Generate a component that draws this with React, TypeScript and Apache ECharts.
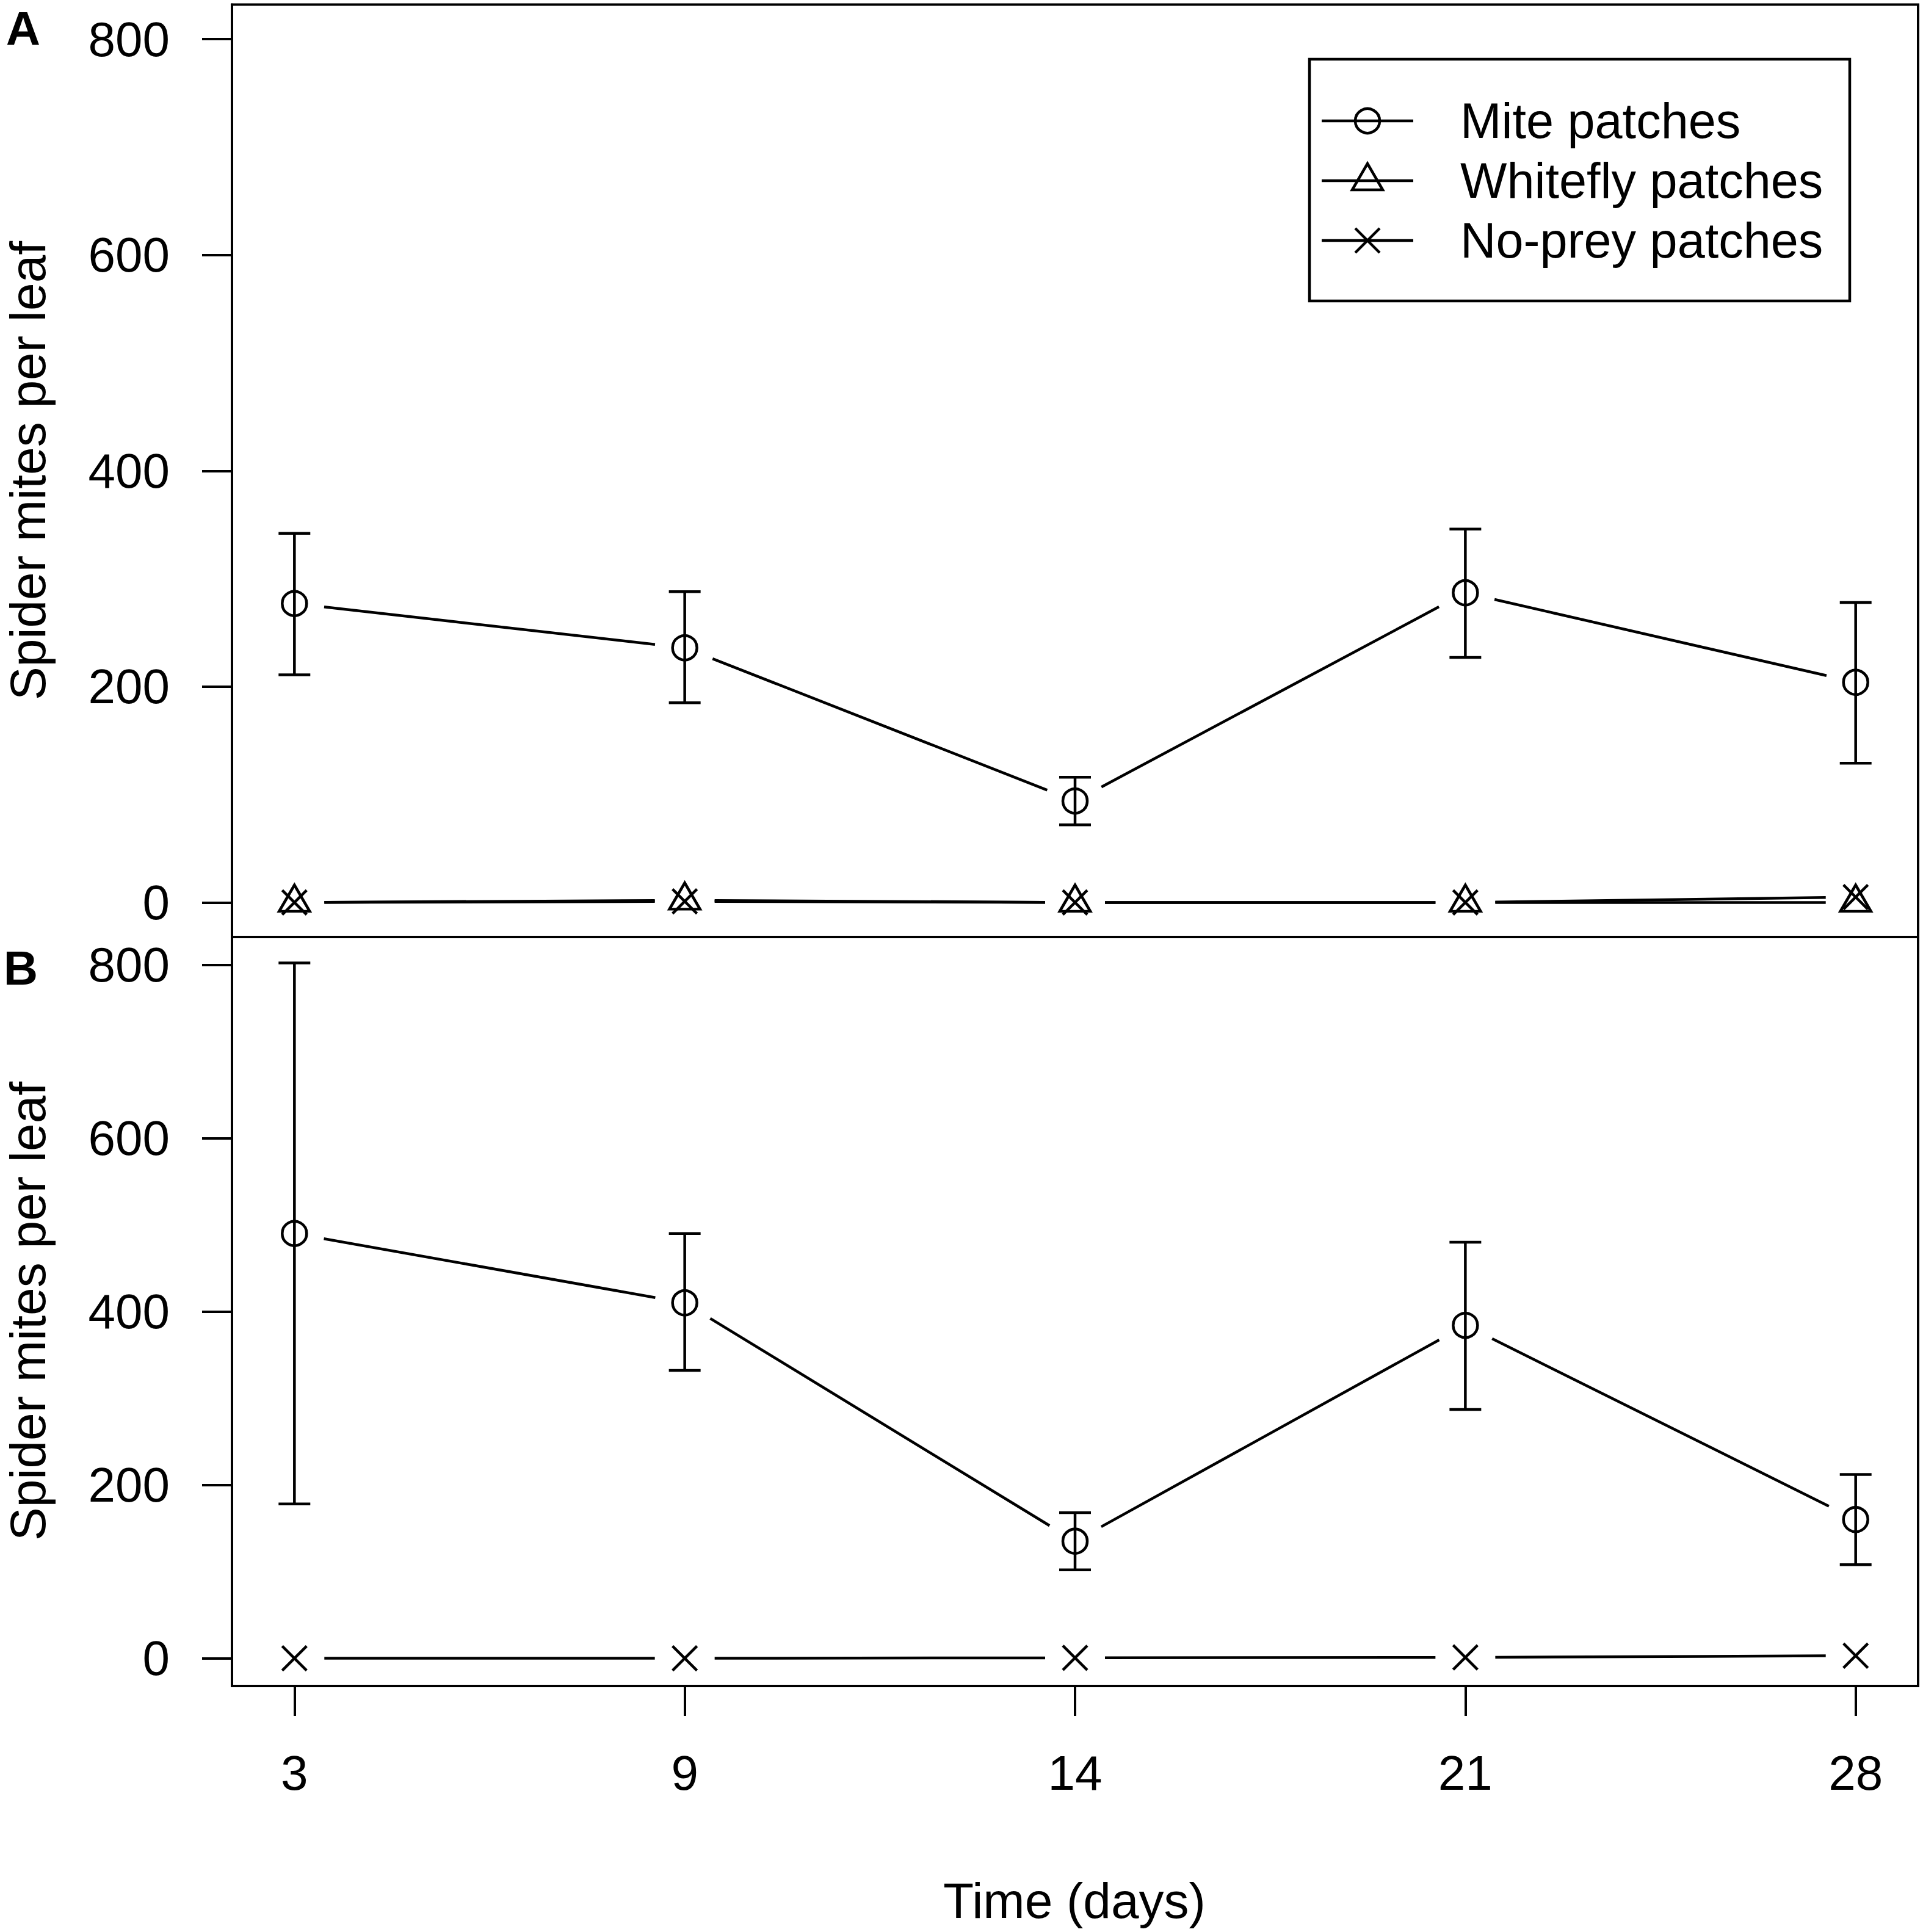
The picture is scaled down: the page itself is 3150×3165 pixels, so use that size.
import React, { useEffect, useRef } from 'react';
import * as echarts from 'echarts';

// ---- data ----
const days = ['3', '9', '14', '21', '28'];
const yTicks = [0, 200, 400, 600, 800];

const miteA = [277, 236, 94, 287, 204];
const miteAUpper = [342, 288, 116, 346, 278];
const miteALower = [211, 185, 72, 227, 129];
const whiteflyA = [0, 2, 0, 0, 0];
const noPreyA = [0, 1, 0, 0, 5];

const miteB = [490, 410, 135, 384, 160];
const miteBUpper = [802, 490, 168, 480, 212];
const miteBLower = [178, 332, 102, 287, 108];
const noPreyB = [0, 0, 0.5, 1, 3];

const legendLabels = ['Mite patches', 'Whitefly patches', 'No-prey patches'];
const yTitle = 'Spider mites per leaf';
const xTitle = 'Time (days)';

// ---- style constants ----
const FONT = '"Liberation Sans", Arial, Helvetica, sans-serif';
const LW = 4.5;
const GAP = 49;
const CAP = 26;
const CROSS = 'path://M0,0L10,10M10,0L0,10';

const xPos = days.map((_, i) => i + 1);
const pts = (v: number[]) => v.map((y, i) => [i + 1, y]);
const segs = (v: number[]) => v.slice(0, -1).map((y, i) => [i + 1, y, i + 2, v[i + 1]]);
const bars = (lo: number[], hi: number[]) => lo.map((l, i) => [i + 1, l, hi[i]]);

const lineStyle = { stroke: '#000', lineWidth: LW, lineCap: 'butt' };

function segSeries(values: number[], gi: number) {
  return {
    type: 'custom',
    xAxisIndex: gi,
    yAxisIndex: gi,
    z: 2,
    silent: true,
    encode: { x: [0, 2], y: [1, 3] },
    data: segs(values),
    renderItem: (params: any, api: any) => {
      const p0 = api.coord([api.value(0), api.value(1)]);
      const p1 = api.coord([api.value(2), api.value(3)]);
      const dx = p1[0] - p0[0];
      const dy = p1[1] - p0[1];
      const len = Math.hypot(dx, dy);
      if (len <= 2 * GAP) return null;
      const ux = dx / len;
      const uy = dy / len;
      return {
        type: 'line',
        shape: { x1: p0[0] + ux * GAP, y1: p0[1] + uy * GAP, x2: p1[0] - ux * GAP, y2: p1[1] - uy * GAP },
        style: lineStyle,
      };
    },
  };
}

function errSeries(lo: number[], hi: number[], gi: number) {
  return {
    type: 'custom',
    xAxisIndex: gi,
    yAxisIndex: gi,
    z: 2,
    silent: true,
    encode: { x: 0, y: [1, 2] },
    data: bars(lo, hi),
    renderItem: (params: any, api: any) => {
      const x = api.value(0);
      const a = api.coord([x, api.value(1)]);
      const b = api.coord([x, api.value(2)]);
      return {
        type: 'group',
        children: [
          { type: 'line', shape: { x1: a[0], y1: a[1], x2: b[0], y2: b[1] }, style: lineStyle },
          { type: 'line', shape: { x1: a[0] - CAP, y1: a[1], x2: a[0] + CAP, y2: a[1] }, style: lineStyle },
          { type: 'line', shape: { x1: b[0] - CAP, y1: b[1], x2: b[0] + CAP, y2: b[1] }, style: lineStyle },
        ],
      };
    },
  };
}

function markSeries(values: number[], gi: number, kind: 'circle' | 'triangle' | 'cross') {
  const base: any = {
    type: 'scatter',
    xAxisIndex: gi,
    yAxisIndex: gi,
    z: 3,
    silent: true,
    emphasis: { disabled: true },
    data: pts(values),
    itemStyle: { color: 'rgba(0,0,0,0)', borderColor: '#000', borderWidth: LW, opacity: 1 },
  };
  if (kind === 'circle') {
    base.symbol = 'circle';
    base.symbolSize = 40;
  } else if (kind === 'triangle') {
    base.symbol = 'triangle';
    base.symbolSize = [50, 43];
    base.symbolOffset = [0, -7];
  } else {
    base.symbol = CROSS;
    base.symbolSize = 40;
  }
  return base;
}

function txt(text: string, x: number, y: number, size: number, extra: any = {}) {
  const { bold, align, ...rest } = extra;
  return {
    type: 'text',
    x,
    y,
    silent: true,
    ...rest,
    style: {
      text,
      fontSize: size,
      fontFamily: FONT,
      fontWeight: bold ? 'bold' : 'normal',
      fill: '#000',
      align: align || 'center',
      verticalAlign: 'middle',
      textAlign: align || 'center',
      textVerticalAlign: 'middle',
    },
  };
}

const axisLineStyle = { color: '#000', width: 4 };

export default function App() {
  const ref = useRef<HTMLDivElement>(null);
  useEffect(() => {
    if (!ref.current) return;
    const chart = echarts.init(ref.current, null, { renderer: 'svg' });

    const gridBase = {
      left: 380,
      width: 2762,
      show: true,
      borderColor: '#000',
      borderWidth: 4,
      backgroundColor: 'transparent',
      containLabel: false,
      outerBoundsMode: 'none',
    };

    const yAxisCfg = (gi: number) => ({
      type: 'value',
      gridIndex: gi,
      min: -32,
      max: 832,
      axisLine: { show: true, onZero: false, lineStyle: axisLineStyle },
      axisTick: { show: true, inside: false, length: 49, lineStyle: axisLineStyle, customValues: yTicks },
      axisLabel: { show: true, margin: 102, fontSize: 80, fontFamily: FONT, color: '#000', customValues: yTicks },
      splitLine: { show: false },
    });

    // legend graphic
    const LX0 = 2165;
    const LX1 = 2315;
    const LMX = 2240;
    const rows = [198, 296, 394];
    const legendGraphic: any[] = [
      {
        type: 'rect',
        shape: { x: 2145, y: 97, width: 885, height: 396 },
        style: { fill: '#fff', stroke: '#000', lineWidth: 4.5 },
        z: 10,
      },
    ];
    rows.forEach((ry, i) => {
      legendGraphic.push({ type: 'line', z: 11, shape: { x1: LX0, y1: ry, x2: LX1, y2: ry }, style: lineStyle });
      legendGraphic.push(txt(legendLabels[i], 2392, ry, 81, { align: 'left', z: 11 }));
    });
    legendGraphic.push({ type: 'circle', z: 12, shape: { cx: LMX, cy: rows[0], r: 20 }, style: { fill: 'none', stroke: '#000', lineWidth: LW } });
    legendGraphic.push({
      type: 'polygon',
      z: 12,
      shape: { points: [[LMX, rows[1] - 28], [LMX + 25, rows[1] + 15], [LMX - 25, rows[1] + 15]] },
      style: { fill: 'none', stroke: '#000', lineWidth: LW },
    });
    legendGraphic.push({ type: 'line', z: 12, shape: { x1: LMX - 20, y1: rows[2] - 20, x2: LMX + 20, y2: rows[2] + 20 }, style: lineStyle });
    legendGraphic.push({ type: 'line', z: 12, shape: { x1: LMX + 20, y1: rows[2] - 20, x2: LMX - 20, y2: rows[2] + 20 }, style: lineStyle });

    const option: any = {
      animation: false,
      backgroundColor: '#fff',
      grid: [
        { ...gridBase, top: 7.5, height: 1527.5 },
        { ...gridBase, top: 1535, height: 1227 },
      ],
      xAxis: [
        {
          type: 'value',
          gridIndex: 0,
          min: 0.84,
          max: 5.16,
          axisLine: { show: false, onZero: false },
          axisTick: { show: false },
          axisLabel: { show: false },
          splitLine: { show: false },
        },
        {
          type: 'value',
          gridIndex: 1,
          min: 0.84,
          max: 5.16,
          axisLine: { show: true, onZero: false, lineStyle: axisLineStyle },
          axisTick: { show: true, inside: false, length: 49, lineStyle: axisLineStyle, customValues: xPos },
          axisLabel: {
            show: true,
            margin: 102,
            fontSize: 80,
            fontFamily: FONT,
            color: '#000',
            customValues: xPos,
            formatter: (v: number) => days[Math.round(v) - 1] ?? '',
          },
          splitLine: { show: false },
        },
      ],
      yAxis: [yAxisCfg(0), yAxisCfg(1)],
      series: [
        errSeries(miteALower, miteAUpper, 0),
        segSeries(miteA, 0),
        segSeries(whiteflyA, 0),
        segSeries(noPreyA, 0),
        markSeries(miteA, 0, 'circle'),
        markSeries(whiteflyA, 0, 'triangle'),
        markSeries(noPreyA, 0, 'cross'),
        errSeries(miteBLower, miteBUpper, 1),
        segSeries(miteB, 1),
        segSeries(noPreyB, 1),
        markSeries(miteB, 1, 'circle'),
        markSeries(noPreyB, 1, 'cross'),
      ],
      graphic: [
        txt('A', 38, 47, 78, { bold: true }),
        txt('B', 34, 1586, 78, { bold: true }),
        txt(yTitle, 45, 771, 82, { rotation: Math.PI / 2 }),
        txt(yTitle, 45, 2148, 82, { rotation: Math.PI / 2 }),
        txt(xTitle, 1760, 3113, 82),
        ...legendGraphic,
      ],
    };
    chart.setOption(option);
    return () => chart.dispose();
  }, []);

  return (
    <div
      ref={ref}
      style={{ position: 'absolute', left: 0, top: 0, width: 3150, height: 3165, background: '#fff' }}
    />
  );
}
